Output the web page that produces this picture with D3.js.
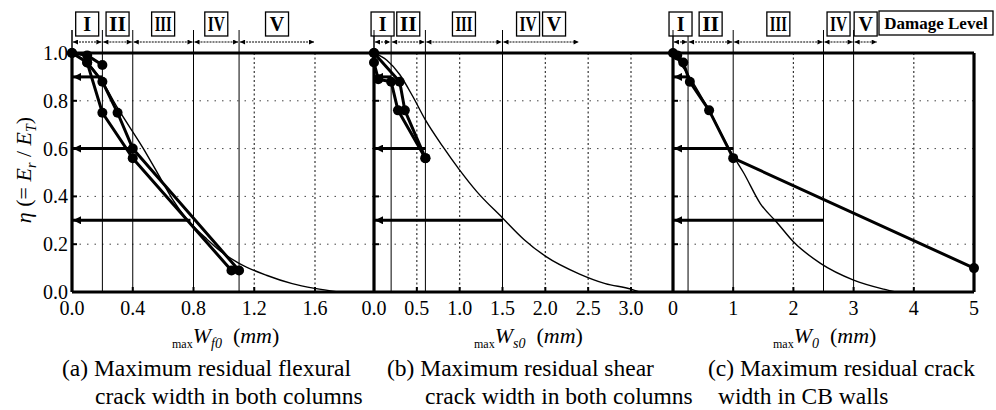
<!DOCTYPE html>
<html>
<head>
<meta charset="utf-8">
<script src="https://cdn.jsdelivr.net/npm/d3@7"></script>
<style>
  body { margin: 0; background: #fff; }
  svg text { font-family: "Liberation Serif", "Times New Roman", serif; }
</style>
</head>
<body>
<svg id="chart" width="996" height="410"></svg>
<script>
// ---- data: (a) flexural crack width in both columns
var flexTicks = [0.0, 0.4, 0.8, 1.2, 1.6];
var flexGrid = [1.2, 1.6];
var flexBounds = [0, 0.2, 0.4, 0.8, 1.1, 1.6];
var flexLevels = [["I"], ["II"], ["III"], ["IV"], ["V"]];
var flexSeries = [
  [[0, 1.0], [0.1, 0.99], [0.2, 0.95]],
  [[0, 1.0], [0.1, 0.96], [0.2, 0.88], [0.3, 0.75], [0.4, 0.6], [1.1, 0.09]],
  [[0.1, 0.96], [0.2, 0.75], [0.4, 0.56], [1.05, 0.09]]
];
var flexCurve = [[0, 1.0], [0.1, 0.96], [0.2, 0.88], [0.3, 0.77], [0.47, 0.6], [0.57, 0.49], [0.66, 0.39],
  [0.75, 0.31], [0.89, 0.22], [1.0, 0.16], [1.1, 0.12], [1.28, 0.07], [1.45, 0.035], [1.6, 0.015], [1.75, 0.0]];
var flexArrows = [[0.2, 0.9], [0.4, 0.6], [0.78, 0.3]];

// ---- data: (b) shear crack width in both columns
var shearTicks = [0.0, 0.5, 1.0, 1.5, 2.0, 2.5, 3.0];
var shearGrid = [0.5, 1.0, 2.0, 2.5, 3.0];
var shearBounds = [0, 0.2, 0.6, 1.5, 2.4];
var shearLevels = [["I"], ["II"], ["III"], ["IV", "V"]];
var shearSeries = [
  [[0, 1.0], [0, 0.96], [0.05, 0.89], [0.2, 0.88], [0.28, 0.76], [0.6, 0.56]],
  [[0, 1.0], [0.3, 0.88], [0.36, 0.76], [0.6, 0.56]]
];
var shearCurve = [[0, 1.0], [0.15, 0.97], [0.3, 0.91], [0.45, 0.82], [0.6, 0.72], [0.8, 0.61], [1.0, 0.51],
  [1.2, 0.42], [1.5, 0.31], [1.75, 0.22], [2.0, 0.15], [2.4, 0.075], [2.7, 0.035], [3.0, 0.012], [3.1, 0.0]];
var shearArrows = [[0.2, 0.9], [0.6, 0.6], [1.5, 0.3]];

// ---- data: (c) crack width in CB walls
var cbTicks = [0, 1, 2, 3, 4, 5];
var cbGrid = [2, 4];
var cbBounds = [0, 0.25, 1.0, 2.5, 3.0, 3.4];
var cbLevels = [["I"], ["II"], ["III"], ["IV"], ["V"]];
var cbSeries = [
  [[0, 1.0], [0.07, 0.99], [0.17, 0.96], [0.28, 0.88], [0.6, 0.76], [1.0, 0.56], [5, 0.1]]
];
var cbCurve = [[0, 1.0], [0.3, 0.89], [0.6, 0.76], [1.0, 0.57], [1.17, 0.5], [1.45, 0.37], [1.73, 0.29],
  [2.0, 0.21], [2.45, 0.12], [3.0, 0.05], [3.5, 0.012], [3.7, 0.0]];
var cbArrows = [[0.25, 0.9], [1.0, 0.6], [2.5, 0.3]];

var yTicks = [0.0, 0.2, 0.4, 0.6, 0.8, 1.0];
var yGrid = [0.2, 0.4, 0.6, 0.8];

var svg = d3.select("#chart");
var y = d3.scaleLinear().domain([0, 1]).range([292, 53]);

var panels = [
  {x: d3.scaleLinear().domain([0, 1.6]).range([72, 315]), ticks: flexTicks, fmt: d3.format(".1f"),
   grid: flexGrid, bounds: flexBounds, levels: flexLevels, series: flexSeries, curve: flexCurve,
   arrows: flexArrows, sub: "f0",
   caption: ["(a) Maximum residual flexural", "crack width in both columns"], capX: [62, 95]},
  {x: d3.scaleLinear().domain([0, 3.0]).range([374, 631]), ticks: shearTicks, fmt: d3.format(".1f"),
   grid: shearGrid, bounds: shearBounds, levels: shearLevels, series: shearSeries, curve: shearCurve,
   arrows: shearArrows, sub: "s0",
   caption: ["(b) Maximum residual shear", "crack width in both columns"], capX: [387, 425]},
  {x: d3.scaleLinear().domain([0, 5]).range([673, 974]), ticks: cbTicks, fmt: d3.format("d"),
   grid: cbGrid, bounds: cbBounds, levels: cbLevels, series: cbSeries, curve: cbCurve,
   arrows: cbArrows, sub: "0",
   caption: ["(c) Maximum residual crack", "width in CB walls"], capX: [708, 718]}
];

var left = panels[0].x(0), right = panels[2].x(5);

// arrow heads
var defs = svg.append("defs");
defs.append("marker").attr("id", "head")
    .attr("viewBox", "0 0 10 10").attr("refX", 10).attr("refY", 5)
    .attr("markerWidth", 10).attr("markerHeight", 8)
    .attr("markerUnits", "userSpaceOnUse").attr("orient", "auto-start-reverse")
  .append("path").attr("d", "M0,0L10,5L0,10z").style("fill", "#000");
defs.append("marker").attr("id", "small")
    .attr("viewBox", "0 0 10 10").attr("refX", 10).attr("refY", 5)
    .attr("markerWidth", 7).attr("markerHeight", 5)
    .attr("markerUnits", "userSpaceOnUse").attr("orient", "auto-start-reverse")
  .append("path").attr("d", "M0,0L10,5L0,10z").style("fill", "#000");

// horizontal dotted grid
svg.selectAll(".hgrid").data(yGrid).enter().append("line")
    .attr("x1", left).attr("x2", right)
    .attr("y1", d => y(d)).attr("y2", d => y(d))
    .style("stroke", "#444").style("stroke-width", 1)
    .style("stroke-dasharray", "1.5,6");

var line = d3.line().x(d => d[0]).y(d => d[1]);

panels.forEach(function(p) {
  var x = p.x;
  var g = svg.append("g");

  // vertical dotted grid
  g.selectAll(".vgrid").data(p.grid).enter().append("line")
      .attr("x1", d => x(d)).attr("x2", d => x(d))
      .attr("y1", y(1)).attr("y2", y(0))
      .style("stroke", "#333").style("stroke-width", 1.2)
      .style("stroke-dasharray", "2,2.5");

  // damage level boundaries (thin solid, up to the arrow row)
  g.selectAll(".bound").data(p.bounds.slice(0, -1)).enter().append("line")
      .attr("x1", d => x(d)).attr("x2", d => x(d))
      .attr("y1", 30).attr("y2", y(0))
      .style("stroke", "#000").style("stroke-width", 1);

  // range arrows and level boxes
  var ranges = d3.pairs(p.bounds);
  ranges.forEach(function(r, i) {
    g.append("line")
        .attr("x1", x(r[0]) + 1).attr("x2", x(r[1]) - 1)
        .attr("y1", 42).attr("y2", 42)
        .style("stroke", "#000").style("stroke-width", 1.2)
        .style("stroke-dasharray", "2,1")
        .attr("marker-start", "url(#small)").attr("marker-end", "url(#small)");

    var labels = p.levels[i];
    var bw = 23, gap = 3;
    var total = labels.length * bw + (labels.length - 1) * gap;
    var cx = x((r[0] + r[1]) / 2);
    labels.forEach(function(lab, j) {
      var bx = cx - total / 2 + j * (bw + gap);
      g.append("rect")
          .attr("x", bx).attr("y", 12).attr("width", bw).attr("height", 24)
          .style("fill", "#fff").style("stroke", "#000").style("stroke-width", 1.3);
      g.append("text")
          .attr("x", bx + bw / 2).attr("y", 31)
          .attr("text-anchor", "middle")
          .attr("textLength", lab.length > 1 ? 17 : null)
          .attr("lengthAdjust", "spacingAndGlyphs")
          .style("font-size", "20px").style("font-weight", "bold")
          .text(lab);
    });
  });

  // y axis line (thick)
  g.append("line")
      .attr("x1", x(0)).attr("x2", x(0)).attr("y1", y(1)).attr("y2", y(0))
      .style("stroke", "#000").style("stroke-width", 3.2);

  // y ticks
  g.selectAll(".ytick").data(yGrid).enter().append("line")
      .attr("x1", x(0)).attr("x2", x(0) + 5)
      .attr("y1", d => y(d)).attr("y2", d => y(d))
      .style("stroke", "#000").style("stroke-width", 2);

  // x ticks + labels
  g.selectAll(".xtick").data(p.ticks).enter().append("line")
      .attr("x1", d => x(d)).attr("x2", d => x(d))
      .attr("y1", y(0)).attr("y2", y(0) - 5)
      .style("stroke", "#000").style("stroke-width", 2);
  g.selectAll(".xlab").data(p.ticks).enter().append("text")
      .attr("x", d => x(d)).attr("y", 315)
      .attr("text-anchor", "middle")
      .style("font-size", "20px")
      .text(d => p.fmt(d));

  // thin fitted curve
  g.append("path")
      .attr("d", d3.line().x(d => x(d[0])).y(d => y(d[1])).curve(d3.curveMonotoneX)(p.curve))
      .style("fill", "none").style("stroke", "#000").style("stroke-width", 1.4);

  // measured series
  p.series.forEach(function(s) {
    g.append("path")
        .attr("d", line(s.map(d => [x(d[0]), y(d[1])])))
        .style("fill", "none").style("stroke", "#000").style("stroke-width", 3)
        .style("stroke-linejoin", "round");
    g.selectAll(null).data(s).enter().append("circle")
        .attr("cx", d => x(d[0])).attr("cy", d => y(d[1])).attr("r", 5)
        .style("fill", "#000");
  });

  // residual energy arrows toward the axis
  g.selectAll(".harrow").data(p.arrows).enter().append("line")
      .attr("x1", d => x(d[0])).attr("x2", x(0) + 1)
      .attr("y1", d => y(d[1])).attr("y2", d => y(d[1]))
      .style("stroke", "#000").style("stroke-width", 3)
      .attr("marker-end", "url(#head)");

  // x axis title
  var t = svg.append("text").attr("x", x(0) + 100).attr("y", 348);
  t.append("tspan").style("font-size", "12px").text("max");
  t.append("tspan").attr("dy", -5).style("font-size", "22px").style("font-style", "italic").text("W");
  t.append("tspan").attr("dy", 5).style("font-size", "14px").style("font-style", "italic").text(p.sub);
  t.append("tspan").attr("dy", -5).style("font-size", "22px").text("\u2002(");
  t.append("tspan").style("font-size", "22px").style("font-style", "italic").text("mm");
  t.append("tspan").style("font-size", "22px").text(")");

  // caption
  svg.append("text").attr("x", p.capX[0]).attr("y", 376)
      .style("font-size", "23.5px").text(p.caption[0]);
  svg.append("text").attr("x", p.capX[1]).attr("y", 404)
      .style("font-size", "23.5px").text(p.caption[1]);
});

// thin extensions of y axes above the frame
panels.forEach(function(p) {
  svg.append("line")
      .attr("x1", p.x(0)).attr("x2", p.x(0)).attr("y1", 30).attr("y2", y(1))
      .style("stroke", "#000").style("stroke-width", 1);
});

// outer frame: top (eta = 1), bottom (eta = 0), right border
svg.append("line").attr("x1", left).attr("x2", right).attr("y1", y(1)).attr("y2", y(1))
    .style("stroke", "#000").style("stroke-width", 3.2);
svg.append("line").attr("x1", left).attr("x2", right).attr("y1", y(0)).attr("y2", y(0))
    .style("stroke", "#000").style("stroke-width", 3.2);
svg.append("line").attr("x1", right).attr("x2", right).attr("y1", y(1)).attr("y2", y(0))
    .style("stroke", "#000").style("stroke-width", 3.2);

// y tick labels on the first panel
svg.selectAll(".ylab").data(yTicks).enter().append("text")
    .attr("x", 68).attr("y", d => y(d) + 7)
    .attr("text-anchor", "end")
    .style("font-size", "20px")
    .text(d => d3.format(".1f")(d));

// y axis title
var yt = svg.append("text")
    .attr("transform", "translate(31,170) rotate(-90)")
    .attr("text-anchor", "middle")
    .style("font-size", "22px");
yt.append("tspan").style("font-style", "italic").text("\u03b7");
yt.append("tspan").text(" (= ");
yt.append("tspan").style("font-style", "italic").text("E");
yt.append("tspan").attr("dy", 5).style("font-size", "14px").style("font-style", "italic").text("r");
yt.append("tspan").attr("dy", -5).text(" / ");
yt.append("tspan").style("font-style", "italic").text("E");
yt.append("tspan").attr("dy", 5).style("font-size", "14px").style("font-style", "italic").text("T");
yt.append("tspan").attr("dy", -5).text(")");

// damage level legend box
svg.append("rect").attr("x", 879).attr("y", 11).attr("width", 114).attr("height", 24)
    .style("fill", "#fff").style("stroke", "#000").style("stroke-width", 1.3);
svg.append("text").attr("x", 936).attr("y", 29).attr("text-anchor", "middle")
    .style("font-size", "17px").style("font-weight", "bold")
    .text("Damage Level");
</script>
</body>
</html>
